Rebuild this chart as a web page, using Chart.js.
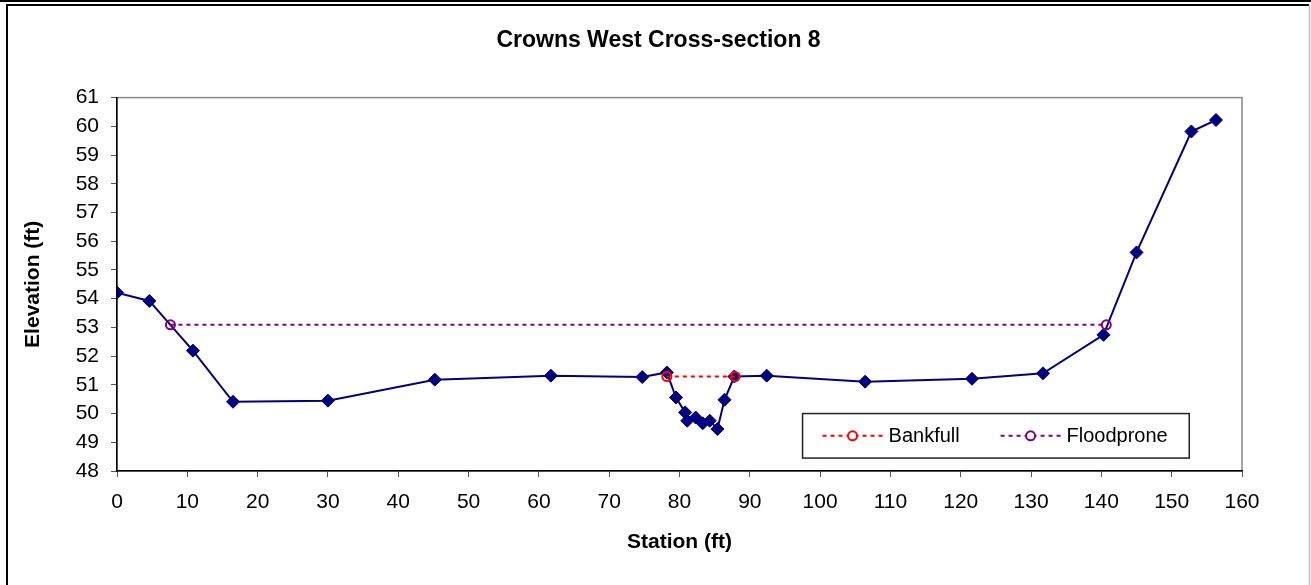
<!DOCTYPE html>
<html>
<head>
<meta charset="utf-8">
<script src="https://cdn.jsdelivr.net/npm/chart.js@4.4.1/dist/chart.umd.min.js"></script>
<style>
    html, body { margin: 0; padding: 0; background: #fff; }
    #wrap { width: 1311px; height: 585px; }
</style>
</head>
<body>
<div id="wrap"><canvas id="chartPic" width="1311" height="585"></canvas></div>
<script>
// ground survey
const station = [0, 4.6, 10.8, 16.5, 30.0, 45.2, 61.7, 74.7, 78.2, 79.5, 80.8, 81.1, 82.3, 83.3, 84.3, 85.4, 86.4, 87.8, 92.4, 106.4, 121.6, 131.7, 140.3, 145.0, 152.8, 156.3];
const elevation = [54.21, 53.92, 52.19, 50.41, 50.45, 51.18, 51.32, 51.27, 51.43, 50.56, 50.04, 49.75, 49.86, 49.66, 49.75, 49.46, 50.48, 51.29, 51.32, 51.11, 51.21, 51.40, 52.74, 55.61, 59.82, 60.22];

// bankfull and floodprone levels
const bankfullStation = [78.2, 87.9];
const bankfullElev = [51.29, 51.29];
const floodStation = [7.6, 140.7];
const floodElev = [53.09, 53.09];

const xTicks = [0, 10, 20, 30, 40, 50, 60, 70, 80, 90, 100, 110, 120, 130, 140, 150, 160];
const yTicks = [48, 49, 50, 51, 52, 53, 54, 55, 56, 57, 58, 59, 60, 61];

const FONT = "'Liberation Sans', Arial, sans-serif";

function toPoints(xs, ys) {
    return xs.map(function (x, i) { return {x: x, y: ys[i]}; });
}

// white background, outer frame, gray plot border
const framePlugin = {
    id: 'frame',
    beforeDraw: function (chart) {
        const ctx = chart.ctx;
        const a = chart.chartArea;
        ctx.save();
        ctx.fillStyle = '#fff';
        ctx.fillRect(0, 0, chart.width, chart.height);
        ctx.strokeStyle = '#000';
        ctx.lineWidth = 2;
        ctx.beginPath();
        ctx.moveTo(0, 1);
        ctx.lineTo(chart.width, 1);
        ctx.stroke();
        ctx.beginPath();
        ctx.moveTo(7, chart.height);
        ctx.lineTo(7, 5);
        ctx.lineTo(chart.width - 2, 5);
        ctx.stroke();
        ctx.strokeStyle = '#bbb';
        ctx.lineWidth = 1.5;
        ctx.beginPath();
        ctx.moveTo(chart.width - 1.5, 5);
        ctx.lineTo(chart.width - 1.5, chart.height);
        ctx.stroke();
        ctx.strokeStyle = '#888';
        ctx.lineWidth = 1.5;
        ctx.strokeRect(a.left, a.top, a.right - a.left, a.bottom - a.top);
        ctx.restore();
    },
    afterLayout: function (chart) {
        // centre title across the whole frame
        if (chart.titleBlock) {
            chart.titleBlock.left = 6;
            chart.titleBlock.right = 1311;
        }
    }
};

// boxed legend in the lower right of the plot
const boxLegend = {
    id: 'boxLegend',
    afterDraw: function (chart) {
        const ctx = chart.ctx;
        const xs = chart.scales.x;
        const ys = chart.scales.y;
        const left = xs.getPixelForValue(97.5);
        const right = xs.getPixelForValue(152.5);
        const top = ys.getPixelForValue(50.0);
        const bottom = ys.getPixelForValue(48.45);
        const cy = (top + bottom) / 2;
        ctx.save();
        ctx.fillStyle = '#fff';
        ctx.fillRect(left, top, right - left, bottom - top);
        ctx.strokeStyle = '#222';
        ctx.lineWidth = 1.5;
        ctx.strokeRect(left, top, right - left, bottom - top);
        ctx.font = '20px ' + FONT;
        ctx.textBaseline = 'middle';
        const items = chart.data.datasets.slice(1);
        let x = left + 20;
        items.forEach(function (ds) {
            ctx.strokeStyle = ds.borderColor;
            ctx.lineWidth = 2;
            ctx.setLineDash([4, 4]);
            ctx.beginPath();
            ctx.moveTo(x, cy);
            ctx.lineTo(x + 62, cy);
            ctx.stroke();
            ctx.setLineDash([]);
            ctx.beginPath();
            ctx.arc(x + 30, cy, 4.5, 0, Math.PI * 2);
            ctx.fillStyle = '#fff';
            ctx.fill();
            ctx.stroke();
            ctx.fillStyle = '#000';
            ctx.fillText(ds.label, x + 66, cy + 1);
            x += 178;
        });
        ctx.restore();
    }
};

const ctx = document.getElementById('chartPic');
const myChart = new Chart(ctx, {
    type: 'scatter',
    data: {
        datasets: [
            {
                label: 'Ground',
                data: toPoints(station, elevation),
                showLine: true,
                borderColor: '#000080',
                backgroundColor: '#000080',
                borderWidth: 2,
                pointStyle: 'rectRot',
                pointRadius: 6.5,
                pointBorderWidth: 1,
                order: 2
            },
            {
                label: 'Bankfull',
                data: toPoints(bankfullStation, bankfullElev),
                showLine: true,
                borderColor: '#ff0000',
                backgroundColor: 'rgba(0, 0, 0, 0)',
                borderWidth: 2,
                borderDash: [4, 4],
                pointStyle: 'circle',
                pointRadius: 4.5,
                pointBorderWidth: 2,
                order: 1
            },
            {
                label: 'Floodprone',
                data: toPoints(floodStation, floodElev),
                showLine: true,
                borderColor: '#800080',
                backgroundColor: 'rgba(0, 0, 0, 0)',
                borderWidth: 2,
                borderDash: [4, 4],
                pointStyle: 'circle',
                pointRadius: 4.5,
                pointBorderWidth: 2,
                order: 1
            }
        ]
    },
    options: {
        responsive: false,
        animation: false,
        layout: {
            padding: {left: 16, right: 69, top: 0, bottom: 0}
        },
        scales: {
            x: {
                type: 'linear',
                min: 0,
                max: 160,
                afterBuildTicks: function (scale) {
                    scale.ticks = xTicks.map(function (v) { return {value: v}; });
                },
                afterFit: function (scale) {
                    scale.height = 114;
                },
                ticks: {
                    color: '#000',
                    padding: 13,
                    maxRotation: 0,
                    autoSkip: false,
                    font: {size: 21, family: FONT}
                },
                grid: {
                    drawOnChartArea: false,
                    tickLength: 6,
                    color: '#555'
                },
                border: {color: '#000', width: 1.5},
                title: {
                    display: true,
                    text: 'Station (ft)',
                    color: '#000',
                    font: {size: 21, weight: 'bold', family: FONT},
                    padding: {top: 0, bottom: 30}
                }
            },
            y: {
                type: 'linear',
                min: 48,
                max: 61,
                afterBuildTicks: function (scale) {
                    scale.ticks = yTicks.map(function (v) { return {value: v}; });
                },
                afterFit: function (scale) {
                    scale.width = 101;
                },
                ticks: {
                    color: '#000',
                    padding: 12,
                    autoSkip: false,
                    font: {size: 21, family: FONT}
                },
                grid: {
                    drawOnChartArea: false,
                    tickLength: 6,
                    color: '#555'
                },
                border: {color: '#000', width: 1.5},
                title: {
                    display: true,
                    text: 'Elevation (ft)',
                    color: '#000',
                    font: {size: 21, weight: 'bold', family: FONT},
                    padding: {top: 5, bottom: 0}
                }
            }
        },
        plugins: {
            legend: {display: false},
            tooltip: {enabled: false},
            title: {
                display: true,
                text: 'Crowns West Cross-section 8',
                color: '#000',
                font: {size: 23, weight: 'bold', family: FONT},
                padding: {top: 27, bottom: 43}
            }
        }
    },
    plugins: [framePlugin, boxLegend]
});
</script>
</body>
</html>
